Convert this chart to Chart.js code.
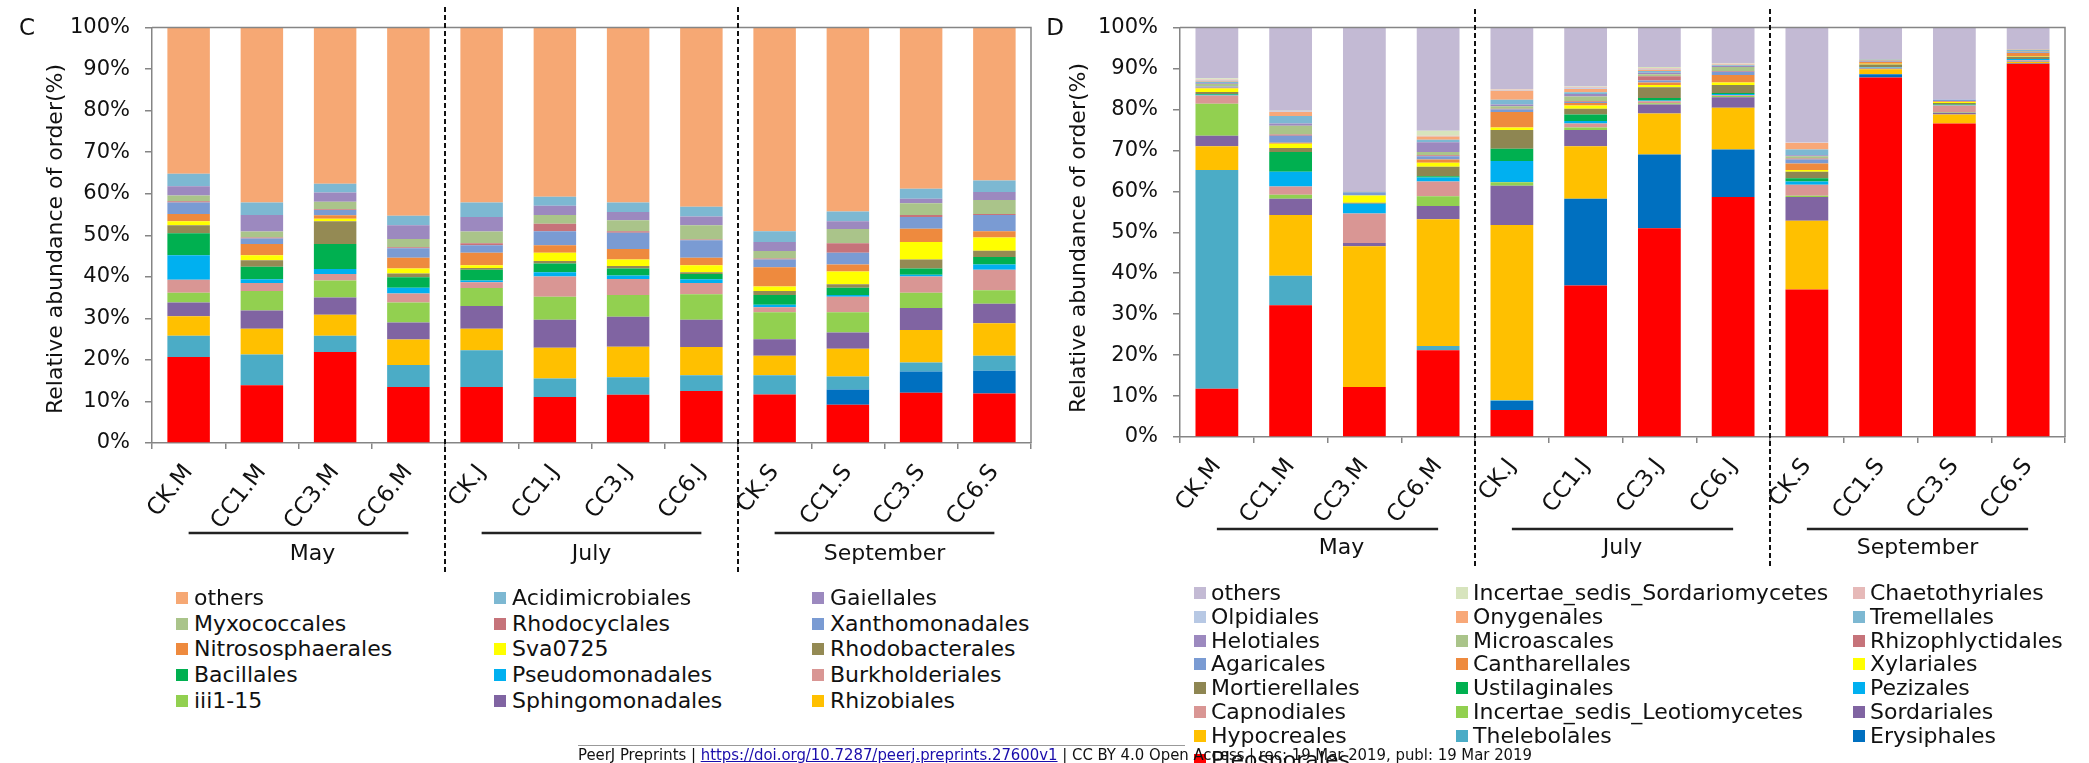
<!DOCTYPE html>
<html>
<head>
<meta charset="utf-8">
<title>Relative abundance of bacterial and fungal orders</title>
<script src="https://cdn.jsdelivr.net/npm/chart.js@4.4.1/dist/chart.umd.min.js"></script>
<style>
  html, body { margin: 0; padding: 0; background: #fff; }
  #page { position: relative; width: 2089px; height: 763px; overflow: hidden; background: #fff;
          font-family: "DejaVu Sans", sans-serif; color: #111; }
  canvas { position: absolute; top: 0; }
  .txt { position: absolute; white-space: nowrap; }
  .ytitle { font-size: 22px; transform: translate(-50%, -50%) rotate(-90deg); }
  .panel { font-size: 23px; transform: translate(-50%, -50%); }
  .leg { position: absolute; height: 24px; line-height: 24px; font-size: 22px; white-space: nowrap;
         transform: translateY(-50%); }
  .leg i { position: absolute; left: 0; top: 6px; width: 12px; height: 12px; }
  #rule { position: absolute; left: 578px; top: 745px; width: 607px; height: 0; border-top: 1px solid #999; }
  #footer { position: absolute; left: 578px; top: 746px; font-family: "DejaVu Sans Condensed", "DejaVu Sans", sans-serif;
            font-size: 16px; line-height: 18px; white-space: nowrap; transform-origin: 0 0; color: #111; }
  #footer .url { color: #1a0dab; text-decoration: underline; }
</style>
</head>
<body>
<div id="page">
  <canvas id="bac" width="1045" height="600" style="left:0px"></canvas>
  <canvas id="fun" width="1049" height="600" style="left:1040px"></canvas>

  <div class="txt panel" style="left:27px; top:27px;">C</div>
  <div class="txt panel" style="left:1055px; top:27px;">D</div>
  <div class="txt ytitle" style="left:54px; top:239px;">Relative abundance of order(%)</div>
  <div class="txt ytitle" style="left:1077px; top:238px;">Relative abundance of order(%)</div>

  <div id="rule"></div>
  <div id="footer"><span>PeerJ Preprints | </span><span class="url">https://doi.org/10.7287/peerj.preprints.27600v1</span><span> | CC BY 4.0 Open Access | rec: 19 Mar 2019, publ: 19 Mar 2019</span></div>
</div>

<script>
// ---------- categories ----------
const sampleLabels = ['CK.M', 'CC1.M', 'CC3.M', 'CC6.M', 'CK.J', 'CC1.J', 'CC3.J', 'CC6.J', 'CK.S', 'CC1.S', 'CC3.S', 'CC6.S'];
const monthLabels = ['May', 'July', 'September'];
const samplesPerMonth = 4;

// ---------- panel C: bacterial orders (%), bottom of stack first ----------
const bacUnlistedA     = [20.7, 13.9, 21.9, 13.5, 13.5, 11.1, 11.6, 12.5, 11.7, 9.2, 12.1, 11.9];
const bacUnlistedB     = [0, 0, 0, 0, 0, 0, 0, 0, 0, 3.7, 5.1, 5.5];
const bacUnlistedC     = [5.1, 7.4, 3.9, 5.3, 8.8, 4.4, 4.2, 3.8, 4.6, 3.1, 2.2, 3.6];
const rhizobiales      = [4.7, 6.2, 5.1, 6.1, 5.2, 7.4, 7.4, 6.8, 4.7, 6.7, 7.8, 7.8];
const sphingomonadales = [3.3, 4.4, 4.1, 4.1, 5.5, 6.8, 7.2, 6.6, 4.0, 3.9, 5.3, 4.7];
const iii1_15          = [2.4, 4.7, 4.1, 4.8, 4.3, 5.5, 5.2, 6.1, 6.5, 4.9, 3.7, 3.3];
const burkholderiales  = [3.1, 1.9, 1.6, 2.2, 1.4, 4.9, 3.9, 2.7, 1.2, 3.7, 3.9, 4.9];
const pseudomonadales  = [5.9, 0.9, 1.2, 1.4, 0.4, 1.0, 0.8, 0.9, 0.6, 0.4, 0.4, 1.3];
const bacillales       = [5.3, 3.0, 6.0, 2.5, 2.6, 2.1, 1.7, 1.3, 2.3, 1.8, 1.5, 1.8];
const rhodobacterales  = [1.9, 1.6, 5.5, 0.9, 0.4, 0.6, 0.6, 0.4, 1.0, 0.8, 2.2, 1.5];
const sva0725          = [1.0, 1.2, 0.6, 1.2, 0.7, 2.0, 1.6, 1.7, 1.1, 3.1, 4.2, 3.2];
const nitrososphaerales= [1.7, 2.7, 0.8, 2.6, 3.0, 1.8, 2.5, 1.8, 4.6, 1.7, 3.2, 1.5];
const xanthomonadales  = [2.8, 1.3, 1.3, 2.3, 1.8, 3.4, 3.9, 4.2, 1.9, 2.8, 2.8, 3.9];
const rhodocyclales    = [0.3, 0.3, 0.2, 0.2, 0.5, 1.8, 0.4, 0.2, 0.2, 2.3, 0.5, 0.2];
const myxococcales     = [1.4, 1.4, 1.8, 2.0, 2.8, 2.1, 2.6, 3.4, 1.8, 3.4, 2.8, 3.4];
const gaiellales       = [2.2, 4.0, 2.2, 3.3, 3.5, 2.2, 2.0, 2.1, 2.2, 1.9, 1.1, 1.9];
const acidimicrobiales = [3.0, 3.0, 2.1, 2.3, 3.5, 2.2, 2.3, 2.4, 2.6, 2.3, 2.4, 2.8];
const bacOthers        = [35.2, 42.1, 37.6, 45.3, 42.1, 40.7, 42.1, 43.1, 49.0, 44.3, 38.8, 36.8];

const bacNames = ['Unlisted order A', 'Unlisted order B', 'Unlisted order C', 'Rhizobiales', 'Sphingomonadales',
  'iii1-15', 'Burkholderiales', 'Pseudomonadales', 'Bacillales', 'Rhodobacterales', 'Sva0725',
  'Nitrososphaerales', 'Xanthomonadales', 'Rhodocyclales', 'Myxococcales', 'Gaiellales',
  'Acidimicrobiales', 'others'];
const bacValues = [bacUnlistedA, bacUnlistedB, bacUnlistedC, rhizobiales, sphingomonadales, iii1_15,
  burkholderiales, pseudomonadales, bacillales, rhodobacterales, sva0725, nitrososphaerales,
  xanthomonadales, rhodocyclales, myxococcales, gaiellales, acidimicrobiales, bacOthers];
const bacKeyCount = 15; // the key lists the top 15 layers only

// ---------- panel D: fungal orders (%), bottom of stack first ----------
const pleosporales     = [11.8, 32.2, 12.2, 21.2, 6.6, 37.0, 51.0, 58.6, 36.0, 87.8, 76.6, 91.2];
const erysiphales      = [0, 0, 0, 0, 2.2, 21.2, 18.0, 11.6, 0, 0.8, 0, 0.1];
const thelebolales     = [53.4, 7.2, 0, 1.0, 0.2, 0, 0, 0, 0, 0, 0, 0];
const hypocreales      = [5.8, 14.8, 34.4, 31.0, 42.8, 12.8, 10.0, 10.2, 16.8, 1.2, 2.2, 0.3];
const sordariales      = [2.6, 4.0, 0.8, 3.2, 9.6, 4.0, 2.2, 2.6, 5.8, 0.2, 0.4, 0.1];
const isLeotiomycetes  = [7.8, 1.0, 0, 2.4, 0.8, 0.6, 0.3, 0.3, 0.3, 0.1, 0.1, 0.1];
const capnodiales      = [2.0, 2.0, 7.2, 3.6, 0.1, 1.0, 0.5, 0.2, 2.7, 0.1, 1.7, 0.2];
const pezizales        = [0.2, 3.6, 2.4, 1.0, 5.1, 0.6, 0.2, 0.3, 0.8, 0.1, 0.1, 0.3];
const ustilaginales    = [0.2, 4.8, 0, 0.3, 3.0, 1.6, 0.6, 0.2, 0.8, 0.1, 0.1, 0];
const mortierellales   = [0.5, 1.0, 0.2, 2.3, 4.6, 1.4, 2.6, 2.0, 1.6, 0.6, 0.4, 0.6];
const xylariales       = [0.8, 1.0, 1.8, 1.0, 0.6, 0.8, 0.6, 0.6, 0.4, 0.2, 0.2, 0.1];
const cantharellales   = [0.2, 0.3, 0, 0.8, 3.8, 0.6, 0.6, 1.8, 1.6, 0.4, 0.2, 0.8];
const agaricales       = [0.3, 1.7, 0.8, 0.8, 0.6, 0.2, 0.5, 0.8, 1.0, 0.1, 0.4, 0.2];
const rhizophlyctidales= [0.1, 0.3, 0, 0.2, 0.2, 0.2, 1.0, 0.2, 0.2, 0.2, 0, 0.1];
const microascales     = [0.5, 2.1, 0.1, 0.8, 0.6, 1.2, 0.5, 1.0, 0.6, 0.1, 0, 0.2];
const helotiales       = [0.2, 0.6, 0.1, 2.4, 0.4, 0.6, 0.4, 0.2, 0.2, 0.1, 0, 0];
const tremellales      = [0.4, 1.8, 0, 0.6, 1.2, 0.4, 0.4, 0.2, 1.4, 0.1, 0, 0.3];
const onygenales       = [0.2, 1.0, 0, 0.8, 2.2, 0.8, 0.3, 0.2, 1.6, 0.1, 0, 0.1];
const olpidiales       = [0.2, 0.1, 0, 0.1, 0.1, 0.2, 0.2, 0.1, 0.1, 0, 0, 0];
const chaetothyriales  = [0.1, 0.1, 0, 0.1, 0.2, 0.2, 0.2, 0.1, 0.1, 0, 0, 0];
const isSordariomycetes= [0.3, 0.1, 0, 1.2, 0.1, 0.2, 0.3, 0.1, 0, 0, 0, 0];
const funOthers        = [12.4, 20.3, 40.0, 25.2, 15.0, 14.4, 9.6, 8.7, 28.0, 7.7, 17.6, 5.3];

const funNames = ['Pleosporales', 'Erysiphales', 'Thelebolales', 'Hypocreales', 'Sordariales',
  'Incertae_sedis_Leotiomycetes', 'Capnodiales', 'Pezizales', 'Ustilaginales', 'Mortierellales',
  'Xylariales', 'Cantharellales', 'Agaricales', 'Rhizophlyctidales', 'Microascales', 'Helotiales',
  'Tremellales', 'Onygenales', 'Olpidiales', 'Chaetothyriales', 'Incertae_sedis_Sordariomycetes', 'others'];
const funValues = [pleosporales, erysiphales, thelebolales, hypocreales, sordariales, isLeotiomycetes,
  capnodiales, pezizales, ustilaginales, mortierellales, xylariales, cantharellales, agaricales,
  rhizophlyctidales, microascales, helotiales, tremellales, onygenales, olpidiales, chaetothyriales,
  isSordariomycetes, funOthers];
const funKeyCount = 22;

// ---------- styling ----------
const FONT = '"DejaVu Sans", sans-serif';
const bacColors = ['#FF0000', '#0070C0', '#4BACC6', '#FFC000', '#8064A2', '#92D050', '#D99694', '#00B0F0',
  '#00B050', '#948A54', '#FFFF00', '#EE8A3E', '#7A9BD3', '#C6737A', '#AAC48A', '#9C89BF', '#7DB8D2', '#F6A874'];
const funColors = ['#FF0000', '#0070C0', '#4BACC6', '#FFC000', '#8064A2', '#92D050', '#D99694', '#00B0F0',
  '#00B050', '#8E8652', '#FFFF00', '#EE8A3E', '#7A9BD3', '#C6737A', '#AAC48A', '#9C89BF', '#7DB8D2',
  '#F8A878', '#B7C8E4', '#E6B9B8', '#D7E4BD', '#C3BAD4'];
const AXIS_COLOR = '#858585';
const LABEL_ANGLE = 52;
const MONTH_SHIFT = [14, 0, 0];

// plot-area geometry of each panel (canvas pixels)
const bacLayout = { w: 1045, h: 600, left: 152, right: 1031, top: 17, bottom: 443,
  labelDy: 25, sepTop: 7, sepBottom: 573, lineY: 533, monthY: 554 };
const funLayout = { w: 1049, h: 600, left: 140, right: 1025, top: 20, bottom: 437,
  labelDy: 25, sepTop: 9, sepBottom: 568, lineY: 529, monthY: 548 };

function decorPlugin(L) {
  return {
    id: 'decor',
    afterDraw(chart) {
      const ctx = chart.ctx, a = chart.chartArea, x = chart.scales.x;
      ctx.save();
      // top and right frame lines
      ctx.strokeStyle = AXIS_COLOR; ctx.lineWidth = 1.5;
      ctx.beginPath(); ctx.moveTo(a.left, a.top); ctx.lineTo(a.right, a.top); ctx.lineTo(a.right, a.bottom); ctx.stroke();

      // slanted sample names
      ctx.fillStyle = '#111';
      ctx.font = '23px ' + FONT;
      ctx.textAlign = 'right'; ctx.textBaseline = 'middle';
      sampleLabels.forEach((lab, i) => {
        ctx.save();
        ctx.translate(x.getPixelForValue(i), a.bottom + L.labelDy);
        ctx.rotate(-LABEL_ANGLE * Math.PI / 180);
        ctx.fillText(lab, 0, 0);
        ctx.restore();
      });

      // dashed month separators
      ctx.strokeStyle = '#111'; ctx.lineWidth = 2; ctx.setLineDash([5, 3]);
      for (let g = 1; g < monthLabels.length; g++) {
        const i = g * samplesPerMonth;
        const bx = (x.getPixelForValue(i - 1) + x.getPixelForValue(i)) / 2;
        ctx.beginPath(); ctx.moveTo(bx, L.sepTop); ctx.lineTo(bx, L.sepBottom); ctx.stroke();
      }
      ctx.setLineDash([]);

      // month brackets and names
      ctx.font = '22px ' + FONT; ctx.textAlign = 'center';
      monthLabels.forEach((m, g) => {
        const x0 = x.getPixelForValue(g * samplesPerMonth);
        const x1 = x.getPixelForValue(g * samplesPerMonth + samplesPerMonth - 1);
        ctx.strokeStyle = '#222'; ctx.lineWidth = 2.5;
        ctx.beginPath(); ctx.moveTo(x0, L.lineY); ctx.lineTo(x1, L.lineY); ctx.stroke();
        ctx.fillText(m, (x0 + x1) / 2 + MONTH_SHIFT[g], L.monthY);
      });
      ctx.restore();
    }
  };
}

function makeChart(id, names, values, colors, L) {
  const datasets = names.map((n, i) => ({
    label: n, data: values[i], backgroundColor: colors[i], borderWidth: 0,
    barPercentage: 0.58, categoryPercentage: 1.0
  }));
  return new Chart(document.getElementById(id), {
    type: 'bar',
    data: { labels: sampleLabels, datasets },
    options: {
      responsive: false, animation: false, devicePixelRatio: 1,
      layout: { padding: { left: 0, top: L.top, right: L.w - L.right, bottom: 0 } },
      plugins: { legend: { display: false }, tooltip: { enabled: false } },
      scales: {
        x: {
          stacked: true, offset: true,
          grid: { display: true, drawOnChartArea: false, drawTicks: true, tickLength: 6, color: AXIS_COLOR, lineWidth: 1.5, offset: true },
          border: { display: true, color: AXIS_COLOR, width: 1.5 },
          ticks: { display: false },
          afterFit(s) { s.height = L.h - L.bottom; }
        },
        y: {
          stacked: true, min: 0, max: 100,
          ticks: { stepSize: 10, callback: v => v + '%', color: '#111', padding: 15, font: { family: FONT, size: 21 } },
          grid: { display: true, drawOnChartArea: false, drawTicks: true, tickLength: 7, color: AXIS_COLOR, lineWidth: 1.5 },
          border: { display: true, color: AXIS_COLOR, width: 1.5 },
          afterFit(s) { s.width = L.left; }
        }
      }
    },
    plugins: [decorPlugin(L)]
  });
}

makeChart('bac', bacNames, bacValues, bacColors, bacLayout);
makeChart('fun', funNames, funValues, funColors, funLayout);

// ---------- keys (listed top layer first, three per row) ----------
function buildKey(names, colors, count, cols, y0, dy, gap) {
  const page = document.getElementById('page');
  const footer = document.getElementById('rule');
  const order = names.map((n, i) => i).reverse().slice(0, count);
  order.forEach((idx, k) => {
    const r = Math.floor(k / 3), c = k % 3;
    const d = document.createElement('div');
    d.className = 'leg';
    d.style.left = cols[c] + 'px';
    d.style.top = (y0 + r * dy) + 'px';
    const sw = document.createElement('i');
    sw.style.background = colors[idx];
    const sp = document.createElement('span');
    sp.style.paddingLeft = gap + 'px';
    sp.textContent = names[idx];
    d.appendChild(sw); d.appendChild(sp);
    page.insertBefore(d, footer);
  });
}
buildKey(bacNames, bacColors, bacKeyCount, [176, 494, 812], 598, 25.7, 18);
buildKey(funNames, funColors, funKeyCount, [1194, 1456, 1853], 593, 23.8, 17);

// stretch the footer line to its printed width
const foot = document.getElementById('footer');
const fw = foot.getBoundingClientRect().width;
foot.style.transform = 'scaleX(' + (954 / fw) + ')';
</script>
</body>
</html>
